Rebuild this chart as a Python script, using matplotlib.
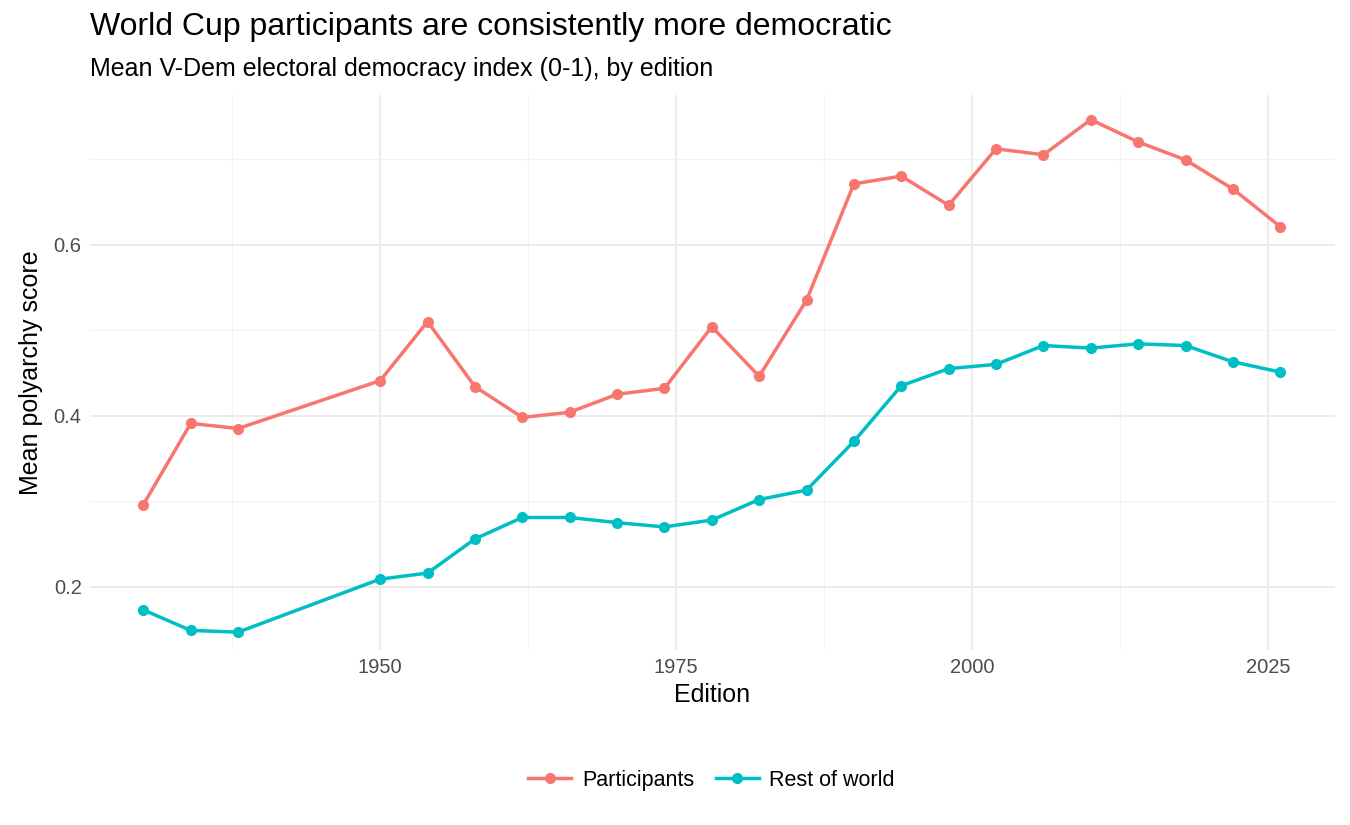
import matplotlib.pyplot as plt
import numpy as np

years = [1930, 1934, 1938, 1950, 1954, 1958, 1962, 1966, 1970, 1974, 1978, 1982,
         1986, 1990, 1994, 1998, 2002, 2006, 2010, 2014, 2018, 2022, 2026]
participants = [0.296, 0.391, 0.385, 0.441, 0.510, 0.434, 0.398, 0.404, 0.425, 0.432,
                0.504, 0.446, 0.535, 0.671, 0.680, 0.646, 0.712, 0.705, 0.746, 0.720,
                0.699, 0.665, 0.621]
rest_of_world = [0.173, 0.149, 0.147, 0.209, 0.216, 0.256, 0.281, 0.281, 0.275, 0.270,
                 0.278, 0.302, 0.313, 0.370, 0.435, 0.455, 0.460, 0.482, 0.479, 0.484,
                 0.482, 0.463, 0.451]

plt.rcParams['font.family'] = ['Liberation Sans', 'DejaVu Sans']

fig = plt.figure(figsize=(13.5, 8.25), dpi=100)
ax = fig.add_axes([0.0667, 0.212, 0.922, 0.673])

ax.plot(years, participants, color='#F8766D', lw=2.5, marker='o', ms=7, label='Participants', zorder=3)
ax.plot(years, rest_of_world, color='#00BFC4', lw=2.5, marker='o', ms=7, label='Rest of world', zorder=3)

ax.set_xlim(1925.5, 2030.6)
ax.set_ylim(0.126, 0.775)
ax.set_xticks([1950, 1975, 2000, 2025])
ax.set_xticks([1937.5, 1962.5, 1987.5, 2012.5], minor=True)
ax.set_yticks([0.2, 0.4, 0.6])
ax.set_yticks([0.3, 0.5, 0.7], minor=True)
ax.grid(True, which='major', color='#ebebeb', lw=1.4)
ax.grid(True, which='minor', color='#f2f2f2', lw=0.8)
ax.tick_params(which='both', length=0, labelsize=14.5, labelcolor='#4d4d4d', pad=6)
for s in ax.spines.values():
    s.set_visible(False)

ax.set_xlabel('Edition', fontsize=18, labelpad=4)
ax.set_ylabel('Mean polyarchy score', fontsize=18, labelpad=8)

fig.text(0.0667, 0.967, 'World Cup participants are consistently more democratic', fontsize=23, va='center')
fig.text(0.0667, 0.916, 'Mean V-Dem electoral democracy index (0-1), by edition', fontsize=18, va='center')

fig.legend(loc='center', bbox_to_anchor=(0.527, 0.054), ncol=2, frameon=False, fontsize=15.5,
           handlelength=2, columnspacing=1.0, handletextpad=0.5)

fig.savefig('out.png', dpi=100)
